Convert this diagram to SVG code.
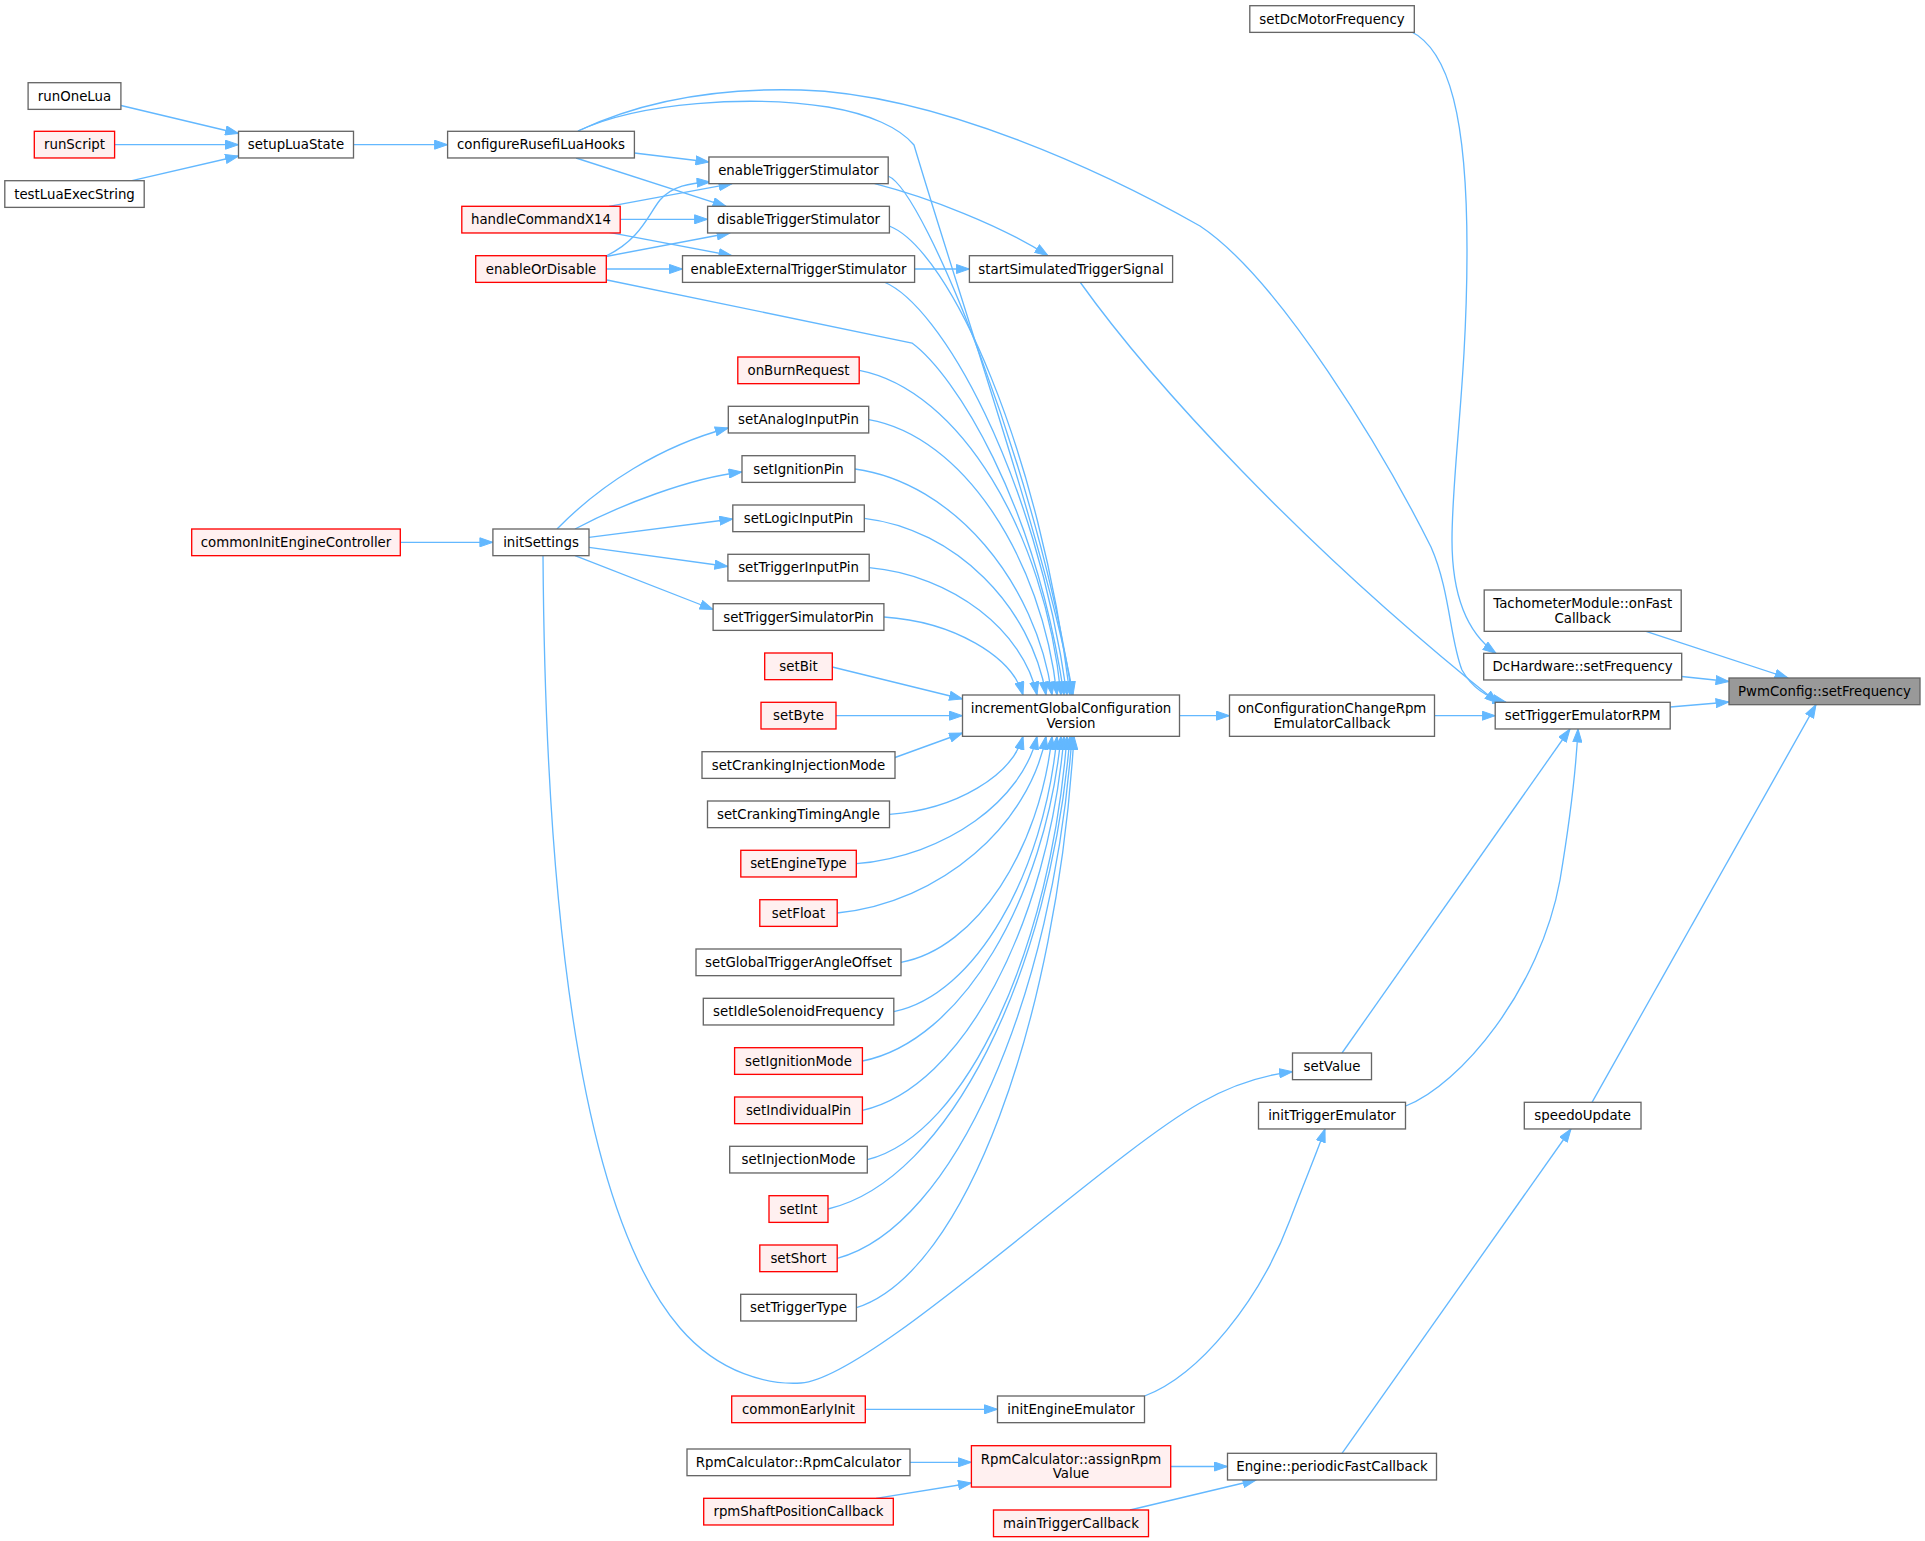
<svg xmlns="http://www.w3.org/2000/svg" width="1925" height="1541" viewBox="0 0 1925 1541">
<style>
.e{fill:none;stroke:#63b8ff;stroke-width:1.33;marker-end:url(#ah)}
.n rect{fill:#ffffff;stroke:#666666;stroke-width:1.33}
.r rect{fill:#fff0f0;stroke:#ff0000;stroke-width:1.33}
.g rect{fill:#999999;stroke:#666666;stroke-width:1.33}
text{font-family:"DejaVu Sans","Liberation Sans",sans-serif;font-size:13.33px;text-anchor:middle;fill:#000000}
</style>
<defs>
<marker id="ah" markerUnits="userSpaceOnUse" viewBox="0 0 14 10" markerWidth="14" markerHeight="10" refX="13.5" refY="5" orient="auto">
<path d="M0.5,0.5 L13.5,5 L0.5,9.5 z" fill="#63b8ff" stroke="#63b8ff" stroke-width="1"/>
</marker>
</defs>
<rect x="0" y="0" width="1925" height="1541" fill="#ffffff"/>
<g id="edges">
<path class="e" d="M121,105.5 L238.5,133.5"/>
<path class="e" d="M114.6,144.7 L238.5,144.7"/>
<path class="e" d="M132,180.7 L238.5,156"/>
<path class="e" d="M353.5,144.7 L447.6,144.7"/>
<path class="e" d="M400.3,542.3 L492.9,542.3"/>
<path class="e" d="M634.4,153 L708.9,162"/>
<path class="e" d="M576,158 L726,206.3"/>
<path class="e" d="M578,131 C640,102 750,95 828,107 C870,114 900,128 914,145 C960,300 1050,560 1073,695"/>
<path class="e" d="M578,131 C650,97 730,88 801,90 C940,94 1110,175 1200,226 C1280,279 1385,455 1431,547 C1450,590 1450,640 1462,670 C1472,688 1488,698 1506,702.3"/>
<path class="e" d="M609,206.3 L732,183.7"/>
<path class="e" d="M620.2,219.3 L707.6,219.3"/>
<path class="e" d="M609,232.3 L732,255.7"/>
<path class="e" d="M606,256 C640,240 648,215 660,200 C672,186 690,183 710,182"/>
<path class="e" d="M606,256.5 L730,233"/>
<path class="e" d="M606.3,269 L682.5,269"/>
<path class="e" d="M607,280 L912,343 C955,375 1035,500 1064,695"/>
<path class="e" d="M874.7,183.7 C930,198 1000,225 1048,255.7"/>
<path class="e" d="M888,176 C925,190 1040,480 1072,695"/>
<path class="e" d="M889.3,226 C950,250 1040,450 1070,695"/>
<path class="e" d="M914.6,269 L969.4,269"/>
<path class="e" d="M884,282 C940,305 1035,470 1067,695"/>
<path class="e" d="M1080,282 C1150,380 1300,545 1498,703"/>
<path class="e" d="M859.3,370.3 C960,389.8 1045,532.8 1061,695"/>
<path class="e" d="M868.7,419.6 C962.9,436.1 1041.9,557.3 1057,695"/>
<path class="e" d="M855,469 C953.5,482.6 1036.2,582 1052,695"/>
<path class="e" d="M864.3,518.3 C955.2,528.9 1031.5,606.7 1046,695"/>
<path class="e" d="M869.2,567.7 C953.1,575.3 1023.6,631.3 1037,695"/>
<path class="e" d="M883.9,617 C953.5,621.7 1011.9,656 1023,695"/>
<path class="e" d="M832.3,667 L962.5,699"/>
<path class="e" d="M836,715.7 L962.5,715.7"/>
<path class="e" d="M895,757.5 L962.5,733"/>
<path class="e" d="M889.5,814.3 C956.3,809.6 1012.3,775.3 1023,736.3"/>
<path class="e" d="M856.3,863.7 C946.7,856.1 1022.5,800 1037,736.3"/>
<path class="e" d="M837.2,913 C941.6,902.4 1029.3,824.7 1046,736.3"/>
<path class="e" d="M901,962.3 C976.5,948.7 1039.9,849.3 1052,736.3"/>
<path class="e" d="M893.8,1011.7 C975.4,995.2 1044,874 1057,736.3"/>
<path class="e" d="M862.4,1061 C961.7,1041.5 1045.1,898.7 1061,736.3"/>
<path class="e" d="M862.4,1110.3 C963.2,1087.9 1047.9,923.3 1064,736.3"/>
<path class="e" d="M867.3,1159.7 C967.2,1134.3 1051,948 1067,736.3"/>
<path class="e" d="M828,1209 C949,1180.6 1050.6,972.7 1070,736.3"/>
<path class="e" d="M837.2,1258.3 C954.6,1227 1053.2,997.3 1072,736.3"/>
<path class="e" d="M856.4,1307.7 C965.2,1273.4 1056.6,1022 1074,736.3"/>
<path class="e" d="M557,529 C600,485 660,446 728.3,428"/>
<path class="e" d="M575,529 C620,505 690,478 742,472"/>
<path class="e" d="M589,537.3 L732.8,519"/>
<path class="e" d="M589,547.3 L727.9,566.5"/>
<path class="e" d="M575,555.7 L713.1,609.5"/>
<path class="e" d="M543,555.7 C545,850 570,1200 680,1328 C720,1374.5 770,1385 801,1383 C870,1379 1100,1160 1200,1103 C1235,1083 1265,1075 1292.5,1071.7"/>
<path class="e" d="M1179.5,715.7 L1229.5,715.7"/>
<path class="e" d="M1434.5,715.7 L1495.2,715.7"/>
<path class="e" d="M1410,31 C1450,50 1467,120 1467,250 C1467,380 1452,470 1452,540 C1452,600 1470,635 1496,653.3"/>
<path class="e" d="M1646,631.3 L1788,678"/>
<path class="e" d="M1681.7,676.5 L1729,681.5"/>
<path class="e" d="M1670.2,707 L1729,702"/>
<path class="e" d="M1592,1102.3 L1816,704.7"/>
<path class="e" d="M1342,1053 L1570,729"/>
<path class="e" d="M1405.7,1106 C1460,1085 1540,990 1560,880 C1570,820 1576,770 1578,729"/>
<path class="e" d="M1342,1453.3 L1571,1129"/>
<path class="e" d="M1144.6,1396 C1200,1375 1260,1300 1290,1220 C1305,1180 1318,1150 1325,1129"/>
<path class="e" d="M865.3,1409.3 L997.5,1409.3"/>
<path class="e" d="M910,1462.3 L971.4,1462.3"/>
<path class="e" d="M876,1498.3 L971.4,1483"/>
<path class="e" d="M1170.7,1466.5 L1227.5,1466.5"/>
<path class="e" d="M1130,1510 L1256,1480"/>
</g>
<g id="node-runOneLua" class="n"><rect x="28.1" y="82.7" width="92.8" height="26.67"/><text x="74.5" y="100.7">runOneLua</text></g>
<g id="node-runScript" class="r"><rect x="34.3" y="131.3" width="80.3" height="26.67"/><text x="74.5" y="149.3">runScript</text></g>
<g id="node-testLuaExecString" class="n"><rect x="4.8" y="180.7" width="139.4" height="26.67"/><text x="74.5" y="198.7">testLuaExecString</text></g>
<g id="node-setupLuaState" class="n"><rect x="238.5" y="131.3" width="115" height="26.67"/><text x="296" y="149.3">setupLuaState</text></g>
<g id="node-commonInitEngineController" class="r"><rect x="191.7" y="529" width="208.6" height="26.67"/><text x="296" y="547">commonInitEngineController</text></g>
<g id="node-configureRusefiLuaHooks" class="n"><rect x="447.6" y="131.3" width="186.8" height="26.67"/><text x="541" y="149.3">configureRusefiLuaHooks</text></g>
<g id="node-handleCommandX14" class="r"><rect x="461.8" y="206.3" width="158.4" height="26.67"/><text x="541" y="224.3">handleCommandX14</text></g>
<g id="node-enableOrDisable" class="r"><rect x="475.7" y="255.7" width="130.6" height="26.67"/><text x="541" y="273.7">enableOrDisable</text></g>
<g id="node-initSettings" class="n"><rect x="492.9" y="529" width="96.1" height="26.67"/><text x="541" y="547">initSettings</text></g>
<g id="node-enableTriggerStimulator" class="n"><rect x="708.9" y="157" width="179.3" height="26.67"/><text x="798.5" y="175">enableTriggerStimulator</text></g>
<g id="node-disableTriggerStimulator" class="n"><rect x="707.6" y="206.3" width="181.8" height="26.67"/><text x="798.5" y="224.3">disableTriggerStimulator</text></g>
<g id="node-enableExternalTriggerStimulator" class="n"><rect x="682.5" y="255.7" width="232.1" height="26.67"/><text x="798.5" y="273.7">enableExternalTriggerStimulator</text></g>
<g id="node-onBurnRequest" class="r"><rect x="737.8" y="357" width="121.4" height="26.67"/><text x="798.5" y="375">onBurnRequest</text></g>
<g id="node-setAnalogInputPin" class="n"><rect x="728.3" y="406.3" width="140.4" height="26.67"/><text x="798.5" y="424.3">setAnalogInputPin</text></g>
<g id="node-setIgnitionPin" class="n"><rect x="742" y="455.7" width="113" height="26.67"/><text x="798.5" y="473.7">setIgnitionPin</text></g>
<g id="node-setLogicInputPin" class="n"><rect x="732.8" y="505" width="131.5" height="26.67"/><text x="798.5" y="523">setLogicInputPin</text></g>
<g id="node-setTriggerInputPin" class="n"><rect x="727.9" y="554.3" width="141.3" height="26.67"/><text x="798.5" y="572.3">setTriggerInputPin</text></g>
<g id="node-setTriggerSimulatorPin" class="n"><rect x="713.1" y="603.7" width="170.8" height="26.67"/><text x="798.5" y="621.7">setTriggerSimulatorPin</text></g>
<g id="node-setBit" class="r"><rect x="764.7" y="653" width="67.6" height="26.67"/><text x="798.5" y="671">setBit</text></g>
<g id="node-setByte" class="r"><rect x="761" y="702.3" width="75" height="26.67"/><text x="798.5" y="720.3">setByte</text></g>
<g id="node-setCrankingInjectionMode" class="n"><rect x="702" y="751.7" width="193" height="26.67"/><text x="798.5" y="769.7">setCrankingInjectionMode</text></g>
<g id="node-setCrankingTimingAngle" class="n"><rect x="707.5" y="801" width="182" height="26.67"/><text x="798.5" y="819">setCrankingTimingAngle</text></g>
<g id="node-setEngineType" class="r"><rect x="740.8" y="850.3" width="115.5" height="26.67"/><text x="798.5" y="868.3">setEngineType</text></g>
<g id="node-setFloat" class="r"><rect x="759.8" y="899.7" width="77.4" height="26.67"/><text x="798.5" y="917.7">setFloat</text></g>
<g id="node-setGlobalTriggerAngleOffset" class="n"><rect x="696" y="949" width="205" height="26.67"/><text x="798.5" y="967">setGlobalTriggerAngleOffset</text></g>
<g id="node-setIdleSolenoidFrequency" class="n"><rect x="703.3" y="998.3" width="190.5" height="26.67"/><text x="798.5" y="1016.3">setIdleSolenoidFrequency</text></g>
<g id="node-setIgnitionMode" class="r"><rect x="734.6" y="1047.7" width="127.8" height="26.67"/><text x="798.5" y="1065.7">setIgnitionMode</text></g>
<g id="node-setIndividualPin" class="r"><rect x="734.6" y="1097" width="127.8" height="26.67"/><text x="798.5" y="1115">setIndividualPin</text></g>
<g id="node-setInjectionMode" class="n"><rect x="729.7" y="1146.3" width="137.6" height="26.67"/><text x="798.5" y="1164.3">setInjectionMode</text></g>
<g id="node-setInt" class="r"><rect x="769" y="1195.7" width="59" height="26.67"/><text x="798.5" y="1213.7">setInt</text></g>
<g id="node-setShort" class="r"><rect x="759.8" y="1245" width="77.4" height="26.67"/><text x="798.5" y="1263">setShort</text></g>
<g id="node-setTriggerType" class="n"><rect x="740.7" y="1294.3" width="115.7" height="26.67"/><text x="798.5" y="1312.3">setTriggerType</text></g>
<g id="node-commonEarlyInit" class="r"><rect x="731.7" y="1396" width="133.6" height="26.67"/><text x="798.5" y="1414">commonEarlyInit</text></g>
<g id="node-RpmCalculator" class="n"><rect x="687" y="1449" width="223" height="26.67"/><text x="798.5" y="1467">RpmCalculator::RpmCalculator</text></g>
<g id="node-rpmShaftPositionCallback" class="r"><rect x="703.7" y="1498.3" width="189.6" height="26.67"/><text x="798.5" y="1516.3">rpmShaftPositionCallback</text></g>
<g id="node-startSimulatedTriggerSignal" class="n"><rect x="969.4" y="255.7" width="203.2" height="26.67"/><text x="1071" y="273.7">startSimulatedTriggerSignal</text></g>
<g id="node-incrementGlobalConfigurationVersion" class="n"><rect x="962.5" y="695" width="217" height="41.33"/><text x="1071" y="713.2">incrementGlobalConfiguration</text><text x="1071" y="727.6">Version</text></g>
<g id="node-initEngineEmulator" class="n"><rect x="997.5" y="1396" width="147" height="26.67"/><text x="1071" y="1414">initEngineEmulator</text></g>
<g id="node-assignRpmValue" class="r"><rect x="971.4" y="1445.7" width="199.3" height="41.33"/><text x="1071" y="1463.9">RpmCalculator::assignRpm</text><text x="1071" y="1478.3">Value</text></g>
<g id="node-mainTriggerCallback" class="r"><rect x="993.5" y="1510" width="155" height="26.67"/><text x="1071" y="1528">mainTriggerCallback</text></g>
<g id="node-setDcMotorFrequency" class="n"><rect x="1249.8" y="5.7" width="164.5" height="26.67"/><text x="1332" y="23.7">setDcMotorFrequency</text></g>
<g id="node-onConfigurationChangeRpmEmulatorCallback" class="n"><rect x="1229.5" y="695" width="205" height="41.33"/><text x="1332" y="713.2">onConfigurationChangeRpm</text><text x="1332" y="727.6">EmulatorCallback</text></g>
<g id="node-setValue" class="n"><rect x="1292.5" y="1053" width="79" height="26.67"/><text x="1332" y="1071">setValue</text></g>
<g id="node-initTriggerEmulator" class="n"><rect x="1258.5" y="1102.3" width="147" height="26.67"/><text x="1332" y="1120.3">initTriggerEmulator</text></g>
<g id="node-periodicFastCallback" class="n"><rect x="1227.5" y="1453.3" width="209" height="26.67"/><text x="1332" y="1471.3">Engine::periodicFastCallback</text></g>
<g id="node-TachometerModule" class="n"><rect x="1484.2" y="590" width="197" height="41.33"/><text x="1582.7" y="608.2">TachometerModule::onFast</text><text x="1582.7" y="622.6">Callback</text></g>
<g id="node-DcHardware" class="n"><rect x="1483.7" y="653.3" width="198" height="26.67"/><text x="1582.7" y="671.3">DcHardware::setFrequency</text></g>
<g id="node-setTriggerEmulatorRPM" class="n"><rect x="1495.2" y="702.3" width="175" height="26.67"/><text x="1582.7" y="720.3">setTriggerEmulatorRPM</text></g>
<g id="node-speedoUpdate" class="n"><rect x="1524.3" y="1102.3" width="116.7" height="26.67"/><text x="1582.7" y="1120.3">speedoUpdate</text></g>
<g id="node-PwmConfig" class="g"><rect x="1729" y="678" width="191" height="26.67"/><text x="1824.5" y="696">PwmConfig::setFrequency</text></g>
</svg>
